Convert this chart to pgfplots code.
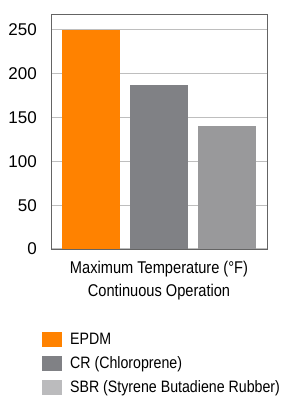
\documentclass[border=0pt]{standalone}
\usepackage{fontspec}
\setmainfont[FakeStretch=0.86]{Liberation Sans}
\newfontfamily\tickfont{Liberation Sans}
\usepackage{pgfplots}
\pgfplotsset{compat=1.18}
\definecolor{epdm}{RGB}{255,130,0}
\definecolor{cr}{RGB}{128,129,133}
\definecolor{sbr}{RGB}{153,153,155}
\definecolor{sbrleg}{RGB}{187,187,189}
\definecolor{frame}{RGB}{100,100,100}
\definecolor{gridc}{RGB}{190,190,190}
\begin{document}
\begin{tikzpicture}[x=1pt,y=1pt]
\begin{axis}[
  at={(51pt,152pt)}, anchor=south west,
  scale only axis, width=216pt, height=235pt,
  xmin=-0.588, xmax=2.588, ymin=0, ymax=268,
  ytick={0,50,100,150,200,250}, xtick=\empty,
  major tick length=0pt,
  ymajorgrids, grid style={gridc, line width=1.2pt},
  axis line style={frame, line width=0.8pt},
  /pgf/number format/assume math mode=true,
  yticklabel style={font=\fontsize{17}{17}\selectfont\tickfont, anchor=east, inner sep=0pt, xshift=-14pt},
  ybar, bar width=58pt,
  xlabel={Maximum Temperature (°F)\\Continuous Operation},
  xlabel style={font=\fontsize{17}{23}\selectfont, align=center, at={(rel axis cs:0.5,0)}, anchor=north, yshift=-12pt, inner sep=0pt},
  legend style={draw=none, fill=none, at={(rel axis cs:-0.042,-0.352)}, anchor=north west,
    font=\fontsize{16.5}{16.5}\selectfont, row sep=9pt, inner sep=0pt,
    nodes={inner sep=0pt, anchor=west}, /tikz/column sep=8pt},
  legend cell align=left,
  legend image code/.code={\fill[#1, draw=none] (0pt,-7.5pt) rectangle (20pt,7.5pt);},
]
\addplot[bar shift=0pt, fill=epdm, draw=none, forget plot] coordinates {(0,250)};
\addplot[bar shift=0pt, fill=cr, draw=none, forget plot] coordinates {(1,187)};
\addplot[bar shift=0pt, fill=sbr, draw=none, forget plot] coordinates {(2,140)};
\addlegendimage{fill=epdm, draw=none}
\addlegendentry{EPDM}
\addlegendimage{fill=cr, draw=none}
\addlegendentry{CR (Chloroprene)}
\addlegendimage{fill=sbrleg, draw=none}
\addlegendentry{SBR (Styrene Butadiene Rubber)}
\end{axis}
\pgfresetboundingbox
\useasboundingbox (0,0) rectangle (283,401);
\end{tikzpicture}
\end{document}
